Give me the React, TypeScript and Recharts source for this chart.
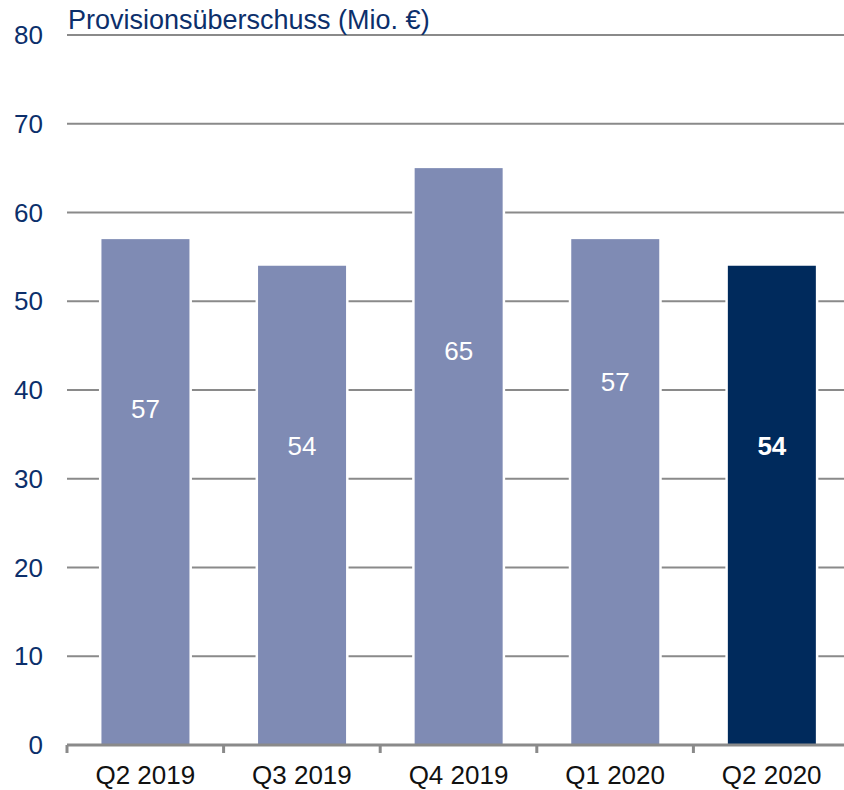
import React from "react";
import { BarChart, Bar, XAxis, YAxis, CartesianGrid, Cell } from "recharts";

const categories = ["Q2 2019", "Q3 2019", "Q4 2019", "Q1 2020", "Q2 2020"];
const values = [57, 54, 65, 57, 54];
// value level (in Mio. €) at which each bar's number label sits
const labelLevels = [37.9, 33.7, 44.4, 40.9, 33.7];
const yTicks = [0, 10, 20, 30, 40, 50, 60, 70, 80];
const title = "Provisionsüberschuss (Mio. €)";
const highlightCategory = "Q2 2020";

const data = categories.map((c, i) => ({ name: c, value: values[i], level: labelLevels[i] }));

const FONT = '"Liberation Sans", Arial, sans-serif';
const LIGHT = "#7f8bb4";
const DARK = "#002a5c";
const NAVY = "#0c2f6b";
const GRID = "#8a8a8a";

const CHART_W = 850;
const CHART_H = 790;
const Y_W = 67;
const M_RIGHT = 0;
const X_TICK_MARGIN = 21;
const BAND_HALF = (CHART_W - Y_W - M_RIGHT) / categories.length / 2;

const BarShape = (props: any) => {
  const { x, y, width, height, payload } = props;
  if (width == null || height == null) return null;
  const highlight = payload.name === highlightCategory;
  const fill = highlight ? DARK : LIGHT;
  const gap = 2.5;
  const ly = y + height * (1 - payload.level / payload.value);
  return (
    <g>
      <rect x={x - gap} y={y - gap} width={width + 2 * gap} height={height + gap} fill="#ffffff" />
      <rect x={x} y={y} width={width} height={height} fill={fill} />
      <text
        x={x + width / 2}
        y={ly}
        dy="0.355em"
        textAnchor="middle"
        fill="#ffffff"
        fontFamily={FONT}
        fontSize={26}
        fontWeight={highlight ? "bold" : "normal"}
      >
        {payload.value}
      </text>
    </g>
  );
};

const CategoryTick = (props: any) => {
  const { x, y, payload, index } = props;
  const half = payload && typeof payload.offset === "number" && payload.offset > 0 ? payload.offset : BAND_HALF;
  const axisY = y - X_TICK_MARGIN;
  return (
    <g>
      <line x1={x - half} x2={x - half} y1={axisY} y2={axisY + 8} stroke={GRID} strokeWidth={3} />
      {index === categories.length - 1 ? (
        <line x1={x + half} x2={x + half} y1={axisY} y2={axisY + 8} stroke={GRID} strokeWidth={3} />
      ) : null}
      <text x={x} y={y} dy="0.71em" textAnchor="middle" fill="#111111" fontFamily={FONT} fontSize={26}>
        {payload.value}
      </text>
    </g>
  );
};

export default function App() {
  return (
    <div
      style={{
        position: "absolute",
        left: 0,
        top: 0,
        width: 844,
        height: 790,
        overflow: "hidden",
        background: "#ffffff",
      }}
    >
      <BarChart
        width={CHART_W}
        height={CHART_H}
        data={data}
        margin={{ top: 35, right: M_RIGHT, bottom: 7, left: 0 }}
        barCategoryGap="22%"
      >
        <CartesianGrid horizontal={true} vertical={false} stroke={GRID} strokeWidth={2} />
        <XAxis
          dataKey="name"
          interval={0}
          axisLine={{ stroke: GRID, strokeWidth: 3 }}
          tickLine={false}
          tickSize={0}
          tickMargin={X_TICK_MARGIN}
          height={38}
          tick={<CategoryTick />}
        />
        <YAxis
          domain={[0, 80]}
          ticks={yTicks}
          width={Y_W}
          axisLine={false}
          tickLine={false}
          tickSize={0}
          tickMargin={24}
          interval={0}
          tick={{ fill: NAVY, fontSize: 26, fontFamily: FONT }}
        />
        <Bar dataKey="value" isAnimationActive={false} shape={<BarShape />}>
          {data.map((d) => (
            <Cell key={d.name} fill={d.name === highlightCategory ? DARK : LIGHT} />
          ))}
        </Bar>
      </BarChart>
      <svg
        width={844}
        height={40}
        style={{ position: "absolute", left: 0, top: 0, pointerEvents: "none" }}
      >
        <text x={68} y={28.5} fill={NAVY} fontFamily={FONT} fontSize={27}>
          {title}
        </text>
      </svg>
    </div>
  );
}
